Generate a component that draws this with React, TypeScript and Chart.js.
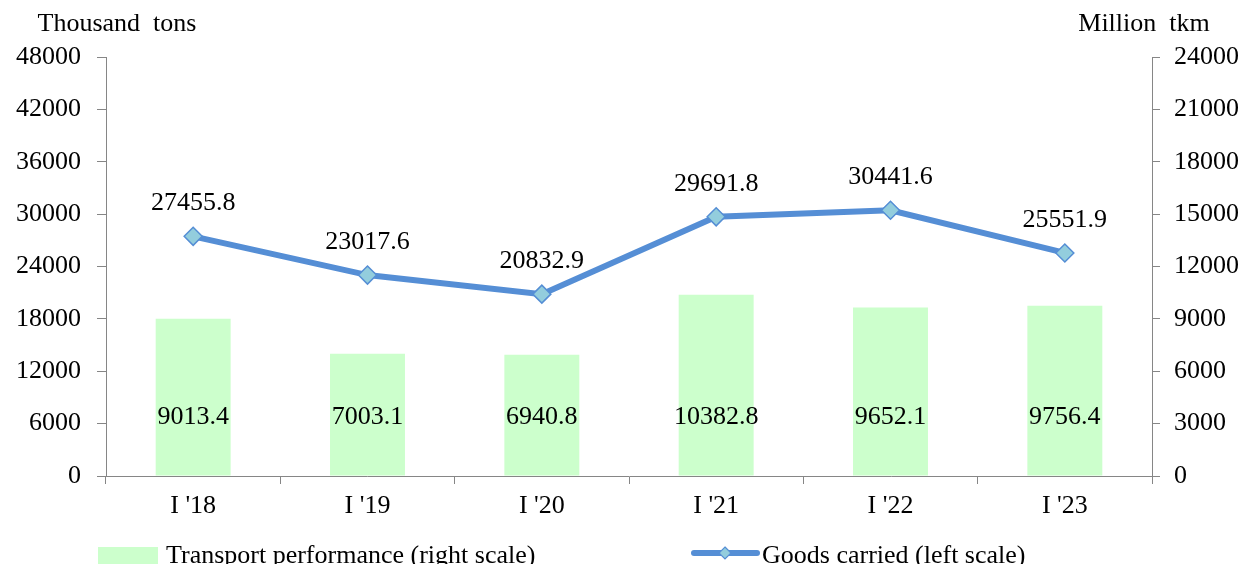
import React, { useEffect, useRef } from "react";
import { Chart, registerables } from "chart.js";

Chart.register(...registerables);

const categories = ["I '18", "I '19", "I '20", "I '21", "I '22", "I '23"];
const transportPerformance = [9013.4, 7003.1, 6940.8, 10382.8, 9652.1, 9756.4];
const goodsCarried = [27455.8, 23017.6, 20832.9, 29691.8, 30441.6, 25551.9];
const leftAxis = { min: 0, max: 48000, step: 6000 };
const rightAxis = { min: 0, max: 24000, step: 3000 };
const leftTitle = "Thousand  tons";
const rightTitle = "Million  tkm";
const barLegend = "Transport performance (right scale)";
const lineLegend = "Goods carried (left scale)";

const FONT = "'Liberation Serif', 'Times New Roman', serif";
const FS = 26;
const W = 1247;
const H = 564;
const BAR_COLOR = "#CCFFCC";
const LINE_COLOR = "#558ED5";
const MARKER_FILL = "#93CDDD";
const AXIS_COLOR = "#868686";

function drawDiamond(ctx: CanvasRenderingContext2D, x: number, y: number, r: number) {
  ctx.beginPath();
  ctx.moveTo(x, y - r);
  ctx.lineTo(x + r, y);
  ctx.lineTo(x, y + r);
  ctx.lineTo(x - r, y);
  ctx.closePath();
  ctx.fillStyle = MARKER_FILL;
  ctx.fill();
  ctx.lineWidth = 1.2;
  ctx.strokeStyle = LINE_COLOR;
  ctx.stroke();
}

const overlayPlugin = {
  id: "overlay",
  afterDraw(chart: any) {
    const ctx: CanvasRenderingContext2D = chart.ctx;
    const area = chart.chartArea;
    ctx.save();
    ctx.font = `${FS}px ${FONT}`;
    ctx.fillStyle = "#000";
    ctx.textAlign = "center";
    ctx.textBaseline = "middle";

    // bar value labels
    const barMeta = chart.getDatasetMeta(0);
    barMeta.data.forEach((el: any, i: number) => {
      ctx.fillText(transportPerformance[i].toFixed(1), el.x, el.base - 58);
    });
    // line value labels
    const lineMeta = chart.getDatasetMeta(1);
    lineMeta.data.forEach((el: any, i: number) => {
      ctx.fillText(goodsCarried[i].toFixed(1), el.x, el.y - 33);
    });

    // axis titles
    ctx.fillText(leftTitle, area.left + 11, 24);
    ctx.fillText(rightTitle, area.right - 8, 24);

    // legend
    const ly = 553;
    ctx.fillStyle = BAR_COLOR;
    ctx.fillRect(98, 547, 60, 17);
    ctx.fillStyle = "#000";
    ctx.textAlign = "left";
    ctx.textBaseline = "alphabetic";
    ctx.fillText(barLegend, 166, 563);

    ctx.strokeStyle = LINE_COLOR;
    ctx.lineWidth = 6;
    ctx.lineCap = "round";
    ctx.beginPath();
    ctx.moveTo(694, ly);
    ctx.lineTo(757, ly);
    ctx.stroke();
    drawDiamond(ctx, 725, ly, 6);
    ctx.fillStyle = "#000";
    ctx.fillText(lineLegend, 762, 563);
    ctx.restore();
  },
};

export default function App() {
  const ref = useRef<HTMLCanvasElement | null>(null);

  useEffect(() => {
    document.body.style.margin = "0";
    Chart.defaults.font.family = FONT;
    Chart.defaults.font.size = FS;
    Chart.defaults.color = "#000";
    const tickFont = { size: FS, family: FONT };
    const chart = new Chart(ref.current as HTMLCanvasElement, {
      type: "bar",
      data: {
        labels: categories,
        datasets: [
          {
            type: "bar",
            label: barLegend,
            data: transportPerformance,
            backgroundColor: BAR_COLOR,
            yAxisID: "y1",
            barPercentage: 0.43,
            categoryPercentage: 1,
            order: 2,
          },
          {
            type: "line",
            label: lineLegend,
            data: goodsCarried,
            borderColor: LINE_COLOR,
            borderWidth: 6,
            pointStyle: "rectRot",
            pointRadius: 9,
            pointBackgroundColor: MARKER_FILL,
            pointBorderColor: LINE_COLOR,
            pointBorderWidth: 1.5,
            yAxisID: "y",
            tension: 0,
            order: 1,
          } as any,
        ],
      },
      options: {
        responsive: false,
        animation: false,
        devicePixelRatio: 1,
        layout: { padding: { left: 0, right: 0, top: 57, bottom: 40 } },
        plugins: { legend: { display: false }, tooltip: { enabled: false } },
        scales: {
          x: {
            grid: { display: true, drawOnChartArea: false, drawTicks: true, tickLength: 8, color: AXIS_COLOR, offset: true },
            border: { display: true, color: AXIS_COLOR, width: 1 },
            ticks: { padding: 7, font: tickFont, color: "#000", maxRotation: 0 },
            afterFit(scale: any) {
              scale.height = 48;
            },
          },
          y: {
            position: "left",
            min: leftAxis.min,
            max: leftAxis.max,
            grid: { display: true, drawOnChartArea: false, drawTicks: true, tickLength: 9, color: AXIS_COLOR },
            border: { display: true, color: AXIS_COLOR, width: 1 },
            ticks: {
              stepSize: leftAxis.step,
              padding: 16,
              font: tickFont,
              color: "#000",
              callback: (v: any) => String(v),
            },
            afterFit(scale: any) {
              scale.width = 106;
            },
          },
          y1: {
            position: "right",
            min: rightAxis.min,
            max: rightAxis.max,
            grid: { display: true, drawOnChartArea: false, drawTicks: true, tickLength: 8, color: AXIS_COLOR },
            border: { display: true, color: AXIS_COLOR, width: 1 },
            ticks: {
              stepSize: rightAxis.step,
              padding: 14,
              font: tickFont,
              color: "#000",
              callback: (v: any) => String(v),
            },
            afterFit(scale: any) {
              scale.width = 95;
            },
          },
        },
      },
      plugins: [overlayPlugin],
    } as any);
    return () => chart.destroy();
  }, []);

  return (
    <canvas
      ref={ref}
      width={W}
      height={H}
      style={{ position: "absolute", left: 0, top: 0, width: W, height: H }}
    />
  );
}
